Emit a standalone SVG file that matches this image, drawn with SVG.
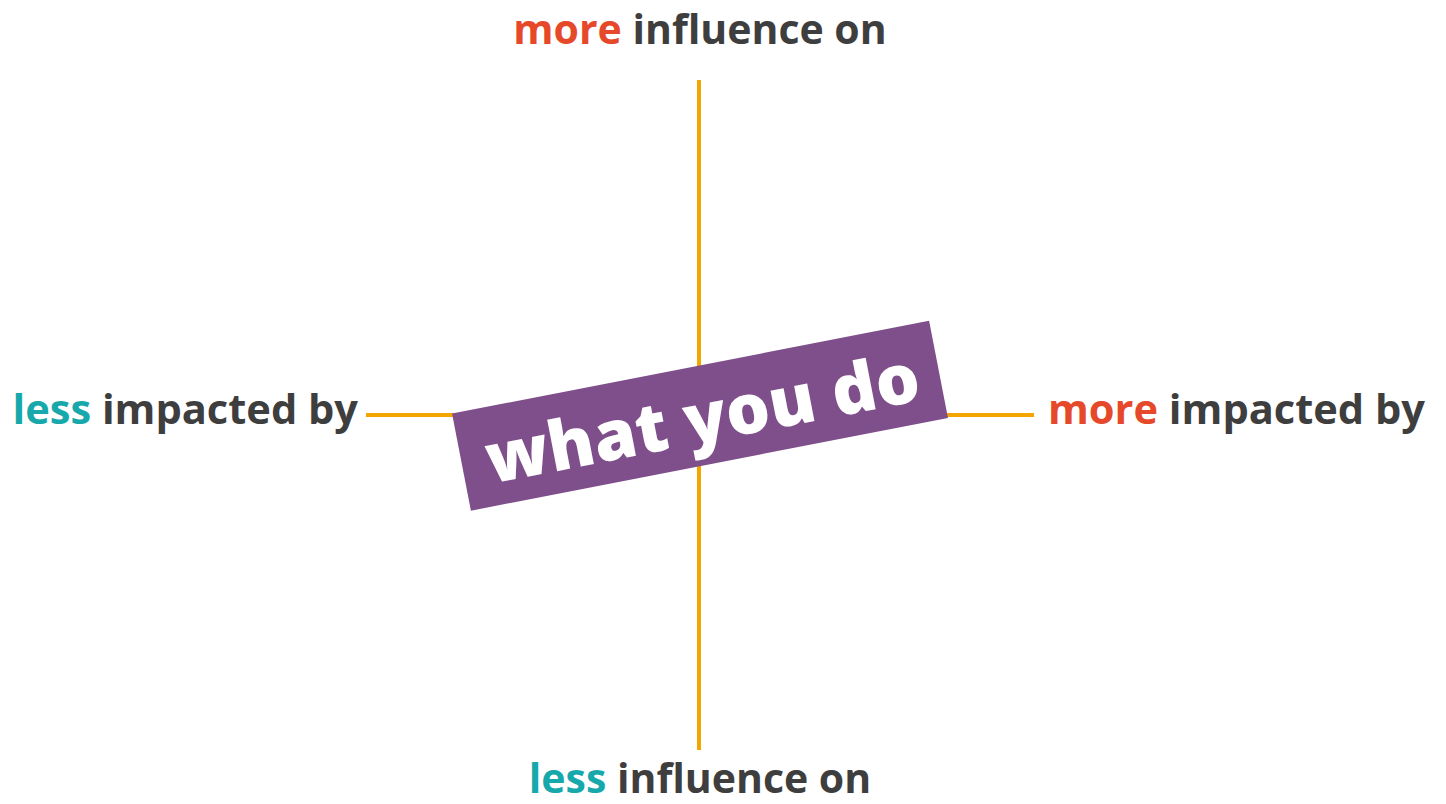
<svg xmlns="http://www.w3.org/2000/svg" width="1446" height="804" viewBox="0 0 1446 804">
<style>
.lbl{font-family:"Open Sans","Liberation Sans",sans-serif;font-weight:700;font-size:41px;fill:#3e3e3e}
.side{font-size:41.6px}
.more{fill:#e6492a}
.less{fill:#17a8ab}
.axis{stroke:#f4a500;stroke-width:4;fill:none}
.big{font-family:"Open Sans","Liberation Sans",sans-serif;font-weight:800;font-size:69px;fill:#ffffff}
</style>
<rect width="1446" height="804" fill="#ffffff"/>
<g id="connectors">
<line class="axis" x1="699" y1="80" x2="699" y2="750"/>
<line class="axis" x1="366" y1="415" x2="460" y2="415"/>
<line class="axis" x1="940" y1="415" x2="1034" y2="415"/>
</g>
<g id="center">
<g transform="translate(700,415.75) rotate(-11)">
<rect x="-243" y="-49.5" width="486" height="99" fill="#7f4f8b"/>
<text class="big" x="2" y="27" text-anchor="middle">what you do</text>
</g>
</g>
<g id="top">
<text class="lbl" x="700" y="44" text-anchor="middle"><tspan class="more">more</tspan> influence on</text>
</g>
<g id="left">
<text class="lbl side" x="358" y="424" text-anchor="end"><tspan class="less">less</tspan> impacted by</text>
</g>
<g id="right">
<text class="lbl side" x="1048" y="424"><tspan class="more">more</tspan> impacted by</text>
</g>
<g id="bottom">
<text class="lbl" x="700" y="793" text-anchor="middle"><tspan class="less">less</tspan> influence on</text>
</g>
</svg>
